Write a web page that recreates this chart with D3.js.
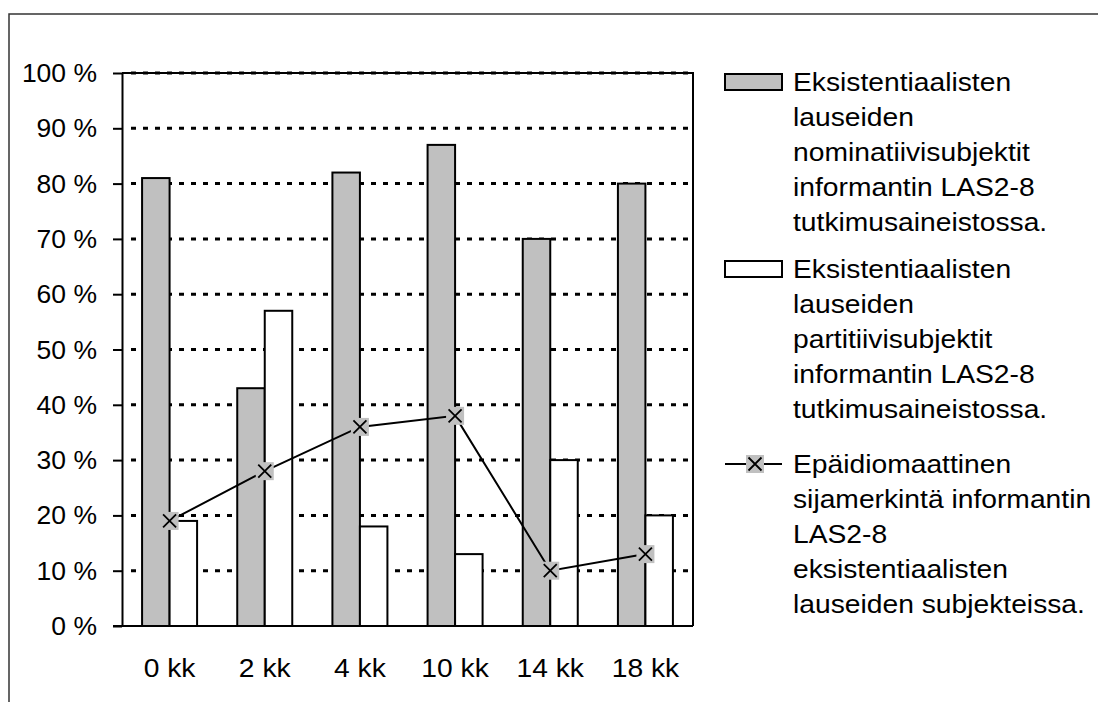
<!DOCTYPE html>
<html>
<head>
<meta charset="utf-8">
<script src="https://cdn.jsdelivr.net/npm/d3@7"></script>
<style>
  body { margin: 0; background: #fff; }
  text { font-family: "Liberation Sans", Arial, sans-serif; font-size: 25px; fill: #000; }
</style>
</head>
<body>
<svg id="chart" width="1098" height="702"></svg>
<script>
// data
const categories = ['0 kk', '2 kk', '4 kk', '10 kk', '14 kk', '18 kk'];
const nominatiivi = [81, 43, 82, 87, 70, 80];
const partitiivi = [19, 57, 18, 13, 30, 20];
const epaidiomaattinen = [19, 28, 36, 38, 10, 13];
const yTicks = [0, 10, 20, 30, 40, 50, 60, 70, 80, 90, 100];
const legendLabels = [
  ['Eksistentiaalisten', 'lauseiden', 'nominatiivisubjektit', 'informantin LAS2-8', 'tutkimusaineistossa.'],
  ['Eksistentiaalisten', 'lauseiden', 'partitiivisubjektit', 'informantin LAS2-8', 'tutkimusaineistossa.'],
  ['Epäidiomaattinen', 'sijamerkintä informantin', 'LAS2-8', 'eksistentiaalisten', 'lauseiden subjekteissa.']
];

const sx = 1.13;          // text is drawn a bit wider than the font
const sxY = 1.06;
const grey = '#c0c0c0';
const plot = { left: 122, right: 693, top: 73, bottom: 626 };

const svg = d3.select('#chart');

// outer frame (runs off the right and bottom edge)
svg.append('rect')
  .attr('x', 9).attr('y', 14)
  .attr('width', 1300).attr('height', 900)
  .attr('fill', 'none').attr('stroke', '#333').attr('stroke-width', 1.5);

const x = d3.scaleBand()
  .domain(categories)
  .range([plot.left, plot.right]);
const xSub = d3.scaleBand()
  .domain(['nom', 'part'])
  .range([0, x.bandwidth()])
  .paddingOuter(0.73);
const y = d3.scaleLinear()
  .domain([0, 100])
  .range([plot.bottom, plot.top]);

// dotted grid
svg.append('g')
  .selectAll('line')
  .data(yTicks.filter(d => d > 0))
  .join('line')
    .attr('x1', plot.left + 9).attr('x2', plot.right)
    .attr('y1', d => y(d)).attr('y2', d => y(d))
    .attr('stroke', '#000').attr('stroke-width', 3)
    .attr('stroke-dasharray', '5,7');

// plot border top & right
svg.append('path')
  .attr('d', `M${plot.left},${plot.top}H${plot.right}V${plot.bottom}`)
  .attr('fill', 'none').attr('stroke', '#000').attr('stroke-width', 2);

// bars
const rows = categories.map((c, i) => ({ c, nom: nominatiivi[i], part: partitiivi[i], line: epaidiomaattinen[i] }));
const barG = svg.append('g');
[['nom', grey], ['part', '#fff']].forEach(([key, fill]) => {
  barG.selectAll('.bar-' + key)
    .data(rows)
    .join('rect')
      .attr('class', 'bar-' + key)
      .attr('x', d => x(d.c) + xSub(key))
      .attr('y', d => y(d[key]))
      .attr('width', xSub.bandwidth())
      .attr('height', d => y(0) - y(d[key]))
      .attr('fill', fill)
      .attr('stroke', '#000').attr('stroke-width', 2);
});

// axes
const yAxis = svg.append('g')
  .attr('transform', `translate(${plot.left},0)`)
  .call(d3.axisLeft(y).tickValues(yTicks).tickSize(9).tickSizeOuter(0).tickFormat(''));
yAxis.selectAll('line, path').attr('stroke', '#000').attr('stroke-width', 2);

svg.append('line')
  .attr('x1', plot.left - 9).attr('x2', plot.right)
  .attr('y1', y(0)).attr('y2', y(0))
  .attr('stroke', '#000').attr('stroke-width', 2);

svg.append('g')
  .selectAll('text')
  .data(yTicks)
  .join('text')
    .attr('text-anchor', 'end')
    .attr('transform', d => `translate(97,${y(d) + 9}) scale(${sxY},1)`)
    .text(d => d + ' %');

svg.append('g')
  .selectAll('text')
  .data(categories)
  .join('text')
    .attr('text-anchor', 'middle')
    .attr('transform', d => `translate(${x(d) + x.bandwidth() / 2},677) scale(${sx},1)`)
    .text(d => d);

// line series with markers
const cx = d => x(d.c) + x.bandwidth() / 2;
svg.append('path')
  .datum(rows)
  .attr('d', d3.line().x(cx).y(d => y(d.line)))
  .attr('fill', 'none').attr('stroke', '#000').attr('stroke-width', 2);

function marker(g) {
  g.append('rect')
    .attr('x', -9).attr('y', -9).attr('width', 18).attr('height', 18)
    .attr('fill', grey);
  g.append('path')
    .attr('d', 'M-6.5,-6.5L6.5,6.5M-6.5,6.5L6.5,-6.5')
    .attr('stroke', '#000').attr('stroke-width', 1.8);
}
svg.append('g')
  .selectAll('g')
  .data(rows)
  .join('g')
    .attr('transform', d => `translate(${cx(d)},${y(d.line)})`)
    .each(function () { marker(d3.select(this)); });

// legend
const legendTop = [91, 278, 473];
const lineGap = 35;
const leg = svg.append('g');
legendLabels.forEach((lines, i) => {
  const g = leg.append('g');
  const my = legendTop[i] - 9;
  if (i < 2) {
    g.append('rect')
      .attr('x', 725).attr('y', my - 8)
      .attr('width', 57).attr('height', 16)
      .attr('fill', i === 0 ? grey : '#fff')
      .attr('stroke', '#000').attr('stroke-width', 2);
  } else {
    g.append('line')
      .attr('x1', 725).attr('x2', 782)
      .attr('y1', my).attr('y2', my)
      .attr('stroke', '#000').attr('stroke-width', 2);
    marker(g.append('g').attr('transform', `translate(755,${my})`));
  }
  g.selectAll('text')
    .data(lines)
    .join('text')
      .attr('transform', (d, j) => `translate(793,${legendTop[i] + j * lineGap}) scale(${sx},1)`)
      .text(d => d);
});
</script>
</body>
</html>
